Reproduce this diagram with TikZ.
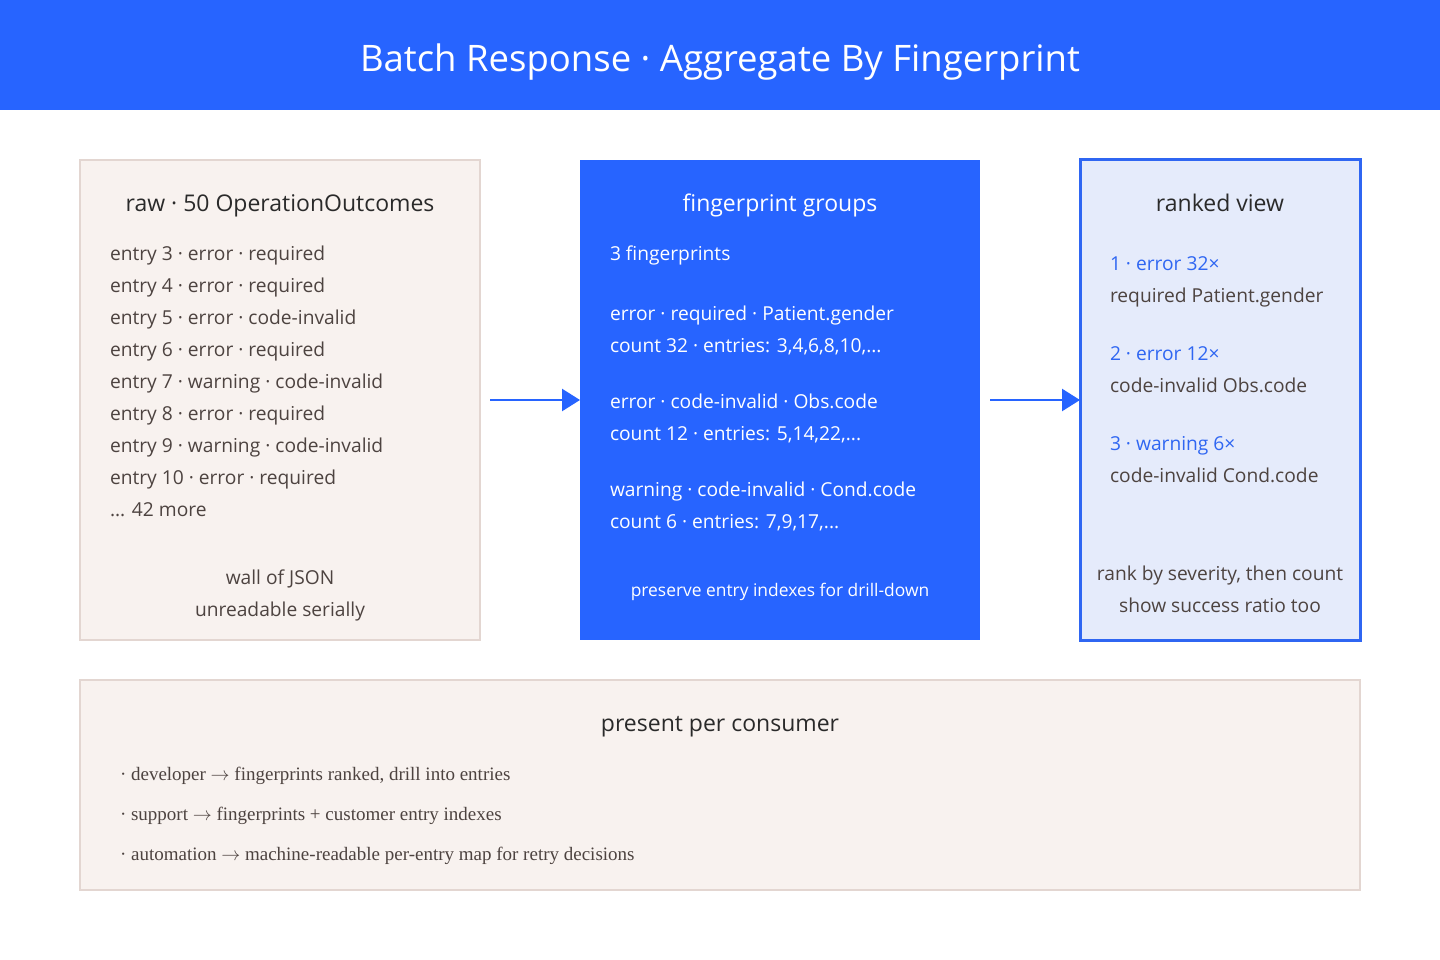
\documentclass[tikz,border=0pt]{standalone}
\usepackage{fix-cm}
\usepackage{fontspec}
\setmainfont{Open Sans}
\newfontfamily\titlefont{Open Sans}
\newfontfamily\serifbody{Liberation Serif}
\usetikzlibrary{arrows.meta}
\definecolor{hdrblue}{HTML}{2764FF}
\definecolor{warmfill}{HTML}{F8F2EF}
\definecolor{warmline}{HTML}{E3D6D1}
\definecolor{paleblue}{HTML}{E5EBFB}
\definecolor{rankblue}{HTML}{2F66F2}
\definecolor{darktext}{HTML}{2A2A2A}
\definecolor{bodytext}{HTML}{4D4340}
\tikzset{
  box/.style={inner sep=0pt, outer sep=0pt},
  txt/.style={inner sep=0pt, outer sep=0pt, text height=0.72em, text depth=0.2em, font=\fontsize{19.2}{22}\selectfont, text=bodytext},
  ltxt/.style={txt, anchor=west},
  ctxt/.style={txt, anchor=center},
  boxtitle/.style={ctxt, font=\fontsize{23}{26}\selectfont, text=darktext},
  flow/.style={draw=hdrblue, line width=2.5pt, -{Triangle[length=18pt,width=22pt]}},
  sertxt/.style={ltxt, font=\serifbody\fontsize{19}{22}\selectfont, text=bodytext},
}
\newcommand{\sarr}{ $\rightarrow$ }
\begin{document}
\begin{tikzpicture}[x=1pt,y=-1pt]
\useasboundingbox (0,0) rectangle (1440,960);
\fill[white] (0,0) rectangle (1440,960);
% header
\fill[hdrblue] (0,0) rectangle (1440,110);
\node[inner sep=0pt, text=white, font=\titlefont\fontsize{36.5}{40}\selectfont] (title) at (720,62) {Batch Response · Aggregate By Fingerprint};

% boxes
\node[box, draw=warmline, fill=warmfill, line width=1.5pt, minimum width=400pt, minimum height=480pt] (raw) at (280,400) {};
\node[box, fill=hdrblue, minimum width=400pt, minimum height=480pt] (groups) at (780,400) {};
\node[box, draw=rankblue, fill=paleblue, line width=3pt, minimum width=280pt, minimum height=480pt] (ranked) at (1220,400) {};
\node[box, draw=warmline, fill=warmfill, line width=1.5pt, minimum width=1280pt, minimum height=210pt] (present) at (720,785) {};

% raw box text
\node[boxtitle] (rawt) at (280,209) {raw · 50 OperationOutcomes};
\node[ltxt] (r1) at (110,258) {entry 3 · error · required};
\node[ltxt] (r2) at (110,290) {entry 4 · error · required};
\node[ltxt] (r3) at (110,322) {entry 5 · error · code-invalid};
\node[ltxt] (r4) at (110,354) {entry 6 · error · required};
\node[ltxt] (r5) at (110,386) {entry 7 · warning · code-invalid};
\node[ltxt] (r6) at (110,418) {entry 8 · error · required};
\node[ltxt] (r7) at (110,450) {entry 9 · warning · code-invalid};
\node[ltxt] (r8) at (110,482) {entry 10 · error · required};
\node[ltxt] (r9) at (110,514) {... 42 more};
\node[ctxt] (rn1) at (280,582) {wall of JSON};
\node[ctxt] (rn2) at (280,614) {unreadable serially};

% groups box text
\node[boxtitle, text=white] (grpt) at (780,209) {fingerprint groups};
\node[ltxt, text=white] (g0) at (610,258) {3 fingerprints};
\node[ltxt, text=white] (g1) at (610,318) {error · required · Patient.gender};
\node[ltxt, text=white] (g2) at (610,350) {count 32 · entries: 3,4,6,8,10,...};
\node[ltxt, text=white] (g3) at (610,406) {error · code-invalid · Obs.code};
\node[ltxt, text=white] (g4) at (610,438) {count 12 · entries: 5,14,22,...};
\node[ltxt, text=white] (g5) at (610,494) {warning · code-invalid · Cond.code};
\node[ltxt, text=white] (g6) at (610,526) {count 6 · entries: 7,9,17,...};
\node[ctxt, text=white, font=\fontsize{17.4}{20}\selectfont] (gn) at (780,594) {preserve entry indexes for drill-down};

% ranked box text
\node[boxtitle] (rkt) at (1220,209) {ranked view};
\node[ltxt, text=rankblue] (k1) at (1110,268) {1 · error 32×};
\node[ltxt] (k1b) at (1110,300) {required Patient.gender};
\node[ltxt, text=rankblue] (k2) at (1110,358) {2 · error 12×};
\node[ltxt] (k2b) at (1110,390) {code-invalid Obs.code};
\node[ltxt, text=rankblue] (k3) at (1110,448) {3 · warning 6×};
\node[ltxt] (k3b) at (1110,480) {code-invalid Cond.code};
\node[ctxt] (kn1) at (1220,578) {rank by severity, then count};
\node[ctxt] (kn2) at (1220,610) {show success ratio too};

% present box text
\node[boxtitle] (pt) at (720,729) {present per consumer};
\node[sertxt] (p1) at (120,778) {· developer\sarr fingerprints ranked, drill into entries};
\node[sertxt] (p2) at (120,818) {· support\sarr fingerprints + customer entry indexes};
\node[sertxt] (p3) at (120,858) {· automation\sarr machine-readable per-entry map for retry decisions};

% connectors
\coordinate (a1s) at (490,400);
\coordinate (a2s) at (990,400);
\draw[flow] (a1s) -- (groups.west);
\draw[flow] (a2s) -- (ranked.west);
\end{tikzpicture}
\end{document}
